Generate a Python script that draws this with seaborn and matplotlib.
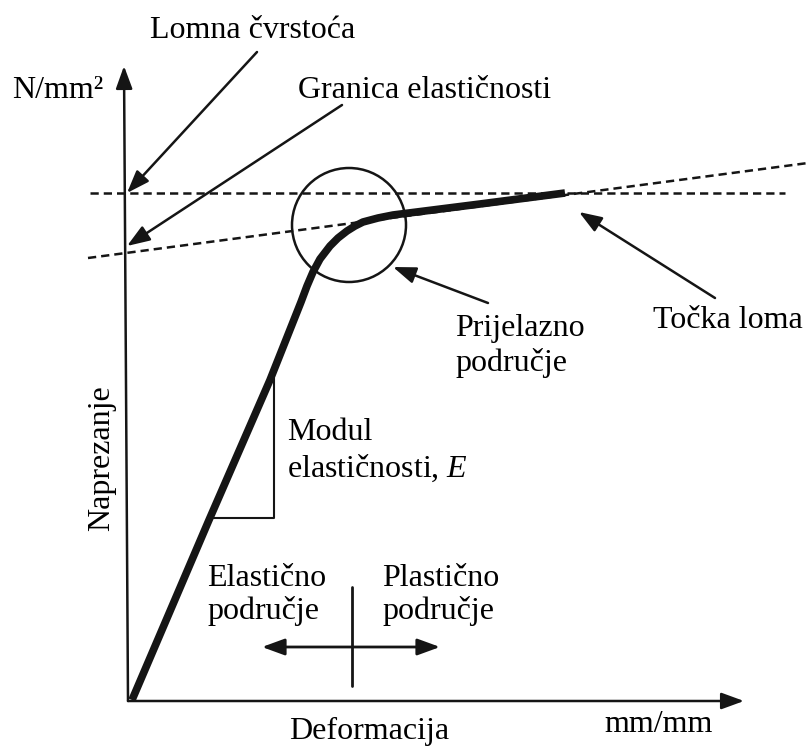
import matplotlib
matplotlib.use("Agg")
import matplotlib.pyplot as plt
from matplotlib.patches import Circle
import seaborn as sns
import pandas as pd

# ---- data (schematic, in picture units: x right, y down) ----
curve_x = [132, 209, 270, 301, 307, 313, 320, 330, 338, 347, 355, 363, 378, 393, 480, 565]
curve_y = [700, 520, 380, 302, 286, 272, 259, 246, 238, 231, 226, 222, 218, 215, 204, 193]

limit_line_x = [90, 785]          # horizontal dashed (lomna čvrstoća)
limit_line_y = [193, 193]
slope_line_x = [88, 808]          # sloped dashed (granica elastičnosti)
slope_line_y = [258, 163]

modul_tri_x = [213, 274, 274]
modul_tri_y = [518, 518, 378]

cross_v_x = [352, 352]
cross_v_y = [587, 686]

circle_center = (349, 225)
circle_radius = 57

labels = {
    "lomna": "Lomna čvrstoća",
    "granica": "Granica elastičnosti",
    "prijelaz": "Prijelazno\npodručje",
    "tocka": "Točka loma",
    "modul1": "Modul",
    "modul2": "elastičnosti, $\\mathit{E}$",
    "elast": "Elastično\npodručje",
    "plast": "Plastično\npodručje",
    "xlab": "Deformacija",
    "xunit": "mm/mm",
    "ylab": "Naprezanje",
    "yunit": "N/mm²",
}

# arrows: (start, end)
arrows = [
    ((257, 52), (127, 193)),    # Lomna čvrstoća
    ((342, 105), (127, 246)),   # Granica elastičnosti
    ((488, 303), (393, 267)),   # Prijelazno područje
    ((715, 298), (579, 212)),   # Točka loma
]
y_axis = ((128, 701), (124, 66))
x_axis = ((128, 701), (744, 701))
double_arrow = ((262, 647), (440, 647))

# ---- drawing ----
sns.set_theme(style="white")
plt.rcParams["font.family"] = ["Liberation Serif", "DejaVu Serif"]
plt.rcParams["mathtext.fontset"] = "custom"
plt.rcParams["mathtext.rm"] = "Liberation Serif"
plt.rcParams["mathtext.it"] = "Liberation Serif:italic"

fig = plt.figure(figsize=(8.08, 7.47), dpi=100)
ax = fig.add_axes([0, 0, 1, 1])
ax.set_xlim(0, 808)
ax.set_ylim(747, 0)
ax.axis("off")

ink = "#151515"
fs = 23
dash = (0, (3.3, 2.0))
head = "-|>,head_length=1.15,head_width=0.42"

# dashed reference lines
sns.lineplot(x=limit_line_x, y=limit_line_y, ax=ax, color=ink, lw=1.8,
             linestyle=dash, sort=False, estimator=None)
sns.lineplot(x=slope_line_x, y=slope_line_y, ax=ax, color=ink, lw=1.8,
             linestyle=dash, sort=False, estimator=None)

# modulus triangle
sns.lineplot(x=modul_tri_x, y=modul_tri_y, ax=ax, color=ink, lw=1.5,
             sort=False, estimator=None)

# cross vertical
sns.lineplot(x=cross_v_x, y=cross_v_y, ax=ax, color=ink, lw=2.0,
             sort=False, estimator=None)

# stress-strain curve
df = pd.DataFrame({"x": curve_x, "y": curve_y})
sns.lineplot(data=df, x="x", y="y", ax=ax, color=ink, lw=5.5,
             sort=False, estimator=None, solid_capstyle="butt",
             solid_joinstyle="round")

# circle
ax.add_patch(Circle(circle_center, circle_radius, fill=False, ec=ink, lw=1.8))

# axes arrows
for (s, e) in [y_axis, x_axis]:
    ax.annotate("", xy=e, xytext=s,
                arrowprops=dict(arrowstyle=head, color=ink, lw=1.8,
                                shrinkA=0, shrinkB=0))

for (s, e) in arrows:
    ax.annotate("", xy=e, xytext=s,
                arrowprops=dict(arrowstyle=head, color=ink, lw=1.8,
                                shrinkA=0, shrinkB=0))

ax.annotate("", xy=double_arrow[1], xytext=double_arrow[0],
            arrowprops=dict(arrowstyle="<|-|>,head_length=1.15,head_width=0.42",
                            color=ink, lw=2.0, shrinkA=0, shrinkB=0))

# texts
tk = dict(fontsize=fs, color="black")
ax.text(150, 31, labels["lomna"], ha="left", va="center", **tk)
ax.text(298, 91, labels["granica"], ha="left", va="center", **tk)
ax.text(12, 90, labels["yunit"], ha="left", va="center", **tk)
ax.text(455, 346, labels["prijelaz"], ha="left", va="center", linespacing=1.2, **tk)
ax.text(653, 320, labels["tocka"], ha="left", va="center", **tk)
ax.text(287, 432, labels["modul1"], ha="left", va="center", **tk)
ax.text(287, 468, labels["modul2"], ha="left", va="center", **tk)
ax.text(207, 595, labels["elast"], ha="left", va="center", linespacing=1.15, **tk)
ax.text(382, 595, labels["plast"], ha="left", va="center", linespacing=1.15, **tk)
ax.text(369, 731, labels["xlab"], ha="center", va="center", **tk)
ax.text(659, 724, labels["xunit"], ha="center", va="center", **tk)
ax.text(102, 458, labels["ylab"], ha="center", va="center", rotation=90, **tk)

fig.savefig("out.png", dpi=100, facecolor="white")
